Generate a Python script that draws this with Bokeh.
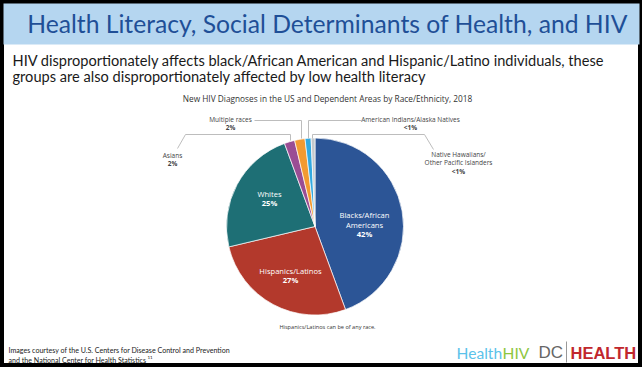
import numpy as np
from bokeh.plotting import figure
from bokeh.models import Range1d, ColumnDataSource
from bokeh.core.properties import value
from bokeh.embed import file_html
from bokeh.resources import INLINE

# ---------------- data (slice sizes) ----------------
groups = ["Blacks/African Americans", "Hispanics/Latinos", "Whites", "Asians",
          "Multiple races", "American Indians/Alaska Natives",
          "Native Hawaiians/Other Pacific Islanders"]
percents = [44.4, 26.9, 23.1, 1.9, 1.9, 1.1, 0.7]
shown = ["42%", "27%", "25%", "2%", "2%", "<1%", "<1%"]
colors = ["#2C5596", "#B3392C", "#1E6F75", "#9A4D94", "#F39A31", "#33A9E0", "#C4C9CD"]

title = "Health Literacy, Social Determinants of Health, and HIV"
subtitle = ["HIV disproportionately affects black/African American and Hispanic/Latino individuals, these",
            "groups are also disproportionately affected by low health literacy"]
chart_title = "New HIV Diagnoses in the US and Dependent Areas by Race/Ethnicity, 2018"
footnote = "Hispanics/Latinos can be of any race."
credits = ["Images courtesy of the U.S. Centers for Disease Control and Prevention",
           "and the National Center for Health Statistics"]
credit_ref = "11"

# ---------------- figure ----------------
W, H = 642, 367


def Y(y):
    return H - y


p = figure(width=W, height=H, output_backend="svg", toolbar_location=None,
           x_range=Range1d(0, W), y_range=Range1d(0, H),
           min_border=0, background_fill_color="white", border_fill_color="white")
p.axis.visible = False
p.grid.visible = False
p.outline_line_color = "black"
p.outline_line_width = 7

# title band
p.quad(left=3, right=639, top=Y(3), bottom=Y(44), color="#B5D6F0", line_color=None)
p.text(x=[327], y=[Y(23)], text=[title], text_font=value("Lato"), text_font_size="24.7px",
       text_color="#1F4F97", text_align="center", text_baseline="middle")

# subtitle
p.text(x=[12, 12], y=[Y(60), Y(76)], text=subtitle, text_font=value("Lato"),
       text_font_size="14.6px", text_color="#1a1a1a", text_align="left", text_baseline="middle")

p.text(x=[327], y=[Y(98)], text=[chart_title], text_font=value("Open Sans"),
       text_font_size="8.3px", text_color="#333333", text_align="center", text_baseline="middle")

# ---------------- pie ----------------
cx, cy, r = 314.5, 226, 88.5
vals = np.array(percents, dtype=float)
cum = np.cumsum(vals) / vals.sum() * 2 * np.pi
prev = np.concatenate([[0.0], cum[:-1]])
src = ColumnDataSource(dict(start=np.pi / 2 - cum, end=np.pi / 2 - prev, color=colors,
                            group=groups))
p.wedge(x=cx, y=Y(cy), radius=r, start_angle="start", end_angle="end",
        fill_color="color", line_color="white", line_width=0.7, source=src)

# inner labels
inner_font = value("Open Sans")
p.text(x=[364, 364, 290, 269], y=[Y(214), Y(224), Y(270), Y(193)],
       text=["Blacks/African", "Americans", "Hispanics/Latinos", "Whites"],
       text_font=inner_font, text_font_size="7.6px", text_color="white",
       text_align="center", text_baseline="middle")
p.text(x=[364, 290, 269], y=[Y(233), Y(279), Y(202)], text=[shown[0], shown[1], shown[2]],
       text_font=inner_font, text_font_size="7.6px", text_font_style="bold",
       text_color="white", text_align="center", text_baseline="middle")

# outer labels
lab_col = "#444444"
p.text(x=[172, 230, 410, 458, 458], y=[Y(155), Y(119), Y(119), Y(154), Y(162)],
       text=["Asians", "Multiple races", "American Indians/Alaska Natives",
             "Native Hawaiians/", "Other Pacific Islanders"],
       text_font=inner_font, text_font_size="6.5px", text_color=lab_col,
       text_align="center", text_baseline="middle")
p.text(x=[172, 230, 410, 458], y=[Y(163), Y(127), Y(127), Y(171)],
       text=[shown[3], shown[4], shown[5], shown[6]],
       text_font=inner_font, text_font_size="6.5px", text_font_style="bold",
       text_color=lab_col, text_align="center", text_baseline="middle")

# leader lines
lx = [[177, 185, 290, 290], [254, 301, 301], [362, 308, 308], [433, 424, 312, 312]]
ly = [[Y(148), Y(134), Y(134), Y(140)], [Y(120), Y(120), Y(138)],
      [Y(120), Y(120), Y(138)], [Y(149), Y(134), Y(134), Y(138)]]
p.multi_line(xs=lx, ys=ly, line_color="#BDBDBD", line_width=1)

p.text(x=[327], y=[Y(326)], text=[footnote], text_font=inner_font, text_font_size="5.6px",
       text_color="#333333", text_align="center", text_baseline="middle")

# credits
p.text(x=[8, 8], y=[Y(350), Y(360)], text=credits, text_font=value("Lato"),
       text_font_size="7.1px", text_color="#222222", text_align="left", text_baseline="middle")
p.text(x=[147], y=[Y(357)], text=[credit_ref], text_font=value("Lato"),
       text_font_size="4.5px", text_color="#222222", text_align="left", text_baseline="middle")

# logos
p.text(x=[456], y=[Y(352)], text=["Health"], text_font=value("Lato"), text_font_size="15.6px",
       text_color="#5BC2EA", text_align="left", text_baseline="middle")
p.text(x=[502], y=[Y(352)], text=["HIV"], text_font=value("Lato"), text_font_size="15.6px",
       text_color="#8DC63F", text_align="left", text_baseline="middle")
p.text(x=[538], y=[Y(352)], text=["DC"], text_font=value("Liberation Sans"),
       text_font_size="17px", text_color="#666666", text_align="left", text_baseline="middle")
p.multi_line(xs=[[566, 566]], ys=[[Y(341), Y(362)]], line_color="#999999", line_width=1)
p.text(x=[570], y=[Y(352)], text=["HEALTH"], text_font=value("Liberation Sans"),
       text_font_size="16.5px", text_font_style="bold", text_color="#C1272D",
       text_align="left", text_baseline="middle")

open("out.html", "w").write(file_html(p, INLINE))
